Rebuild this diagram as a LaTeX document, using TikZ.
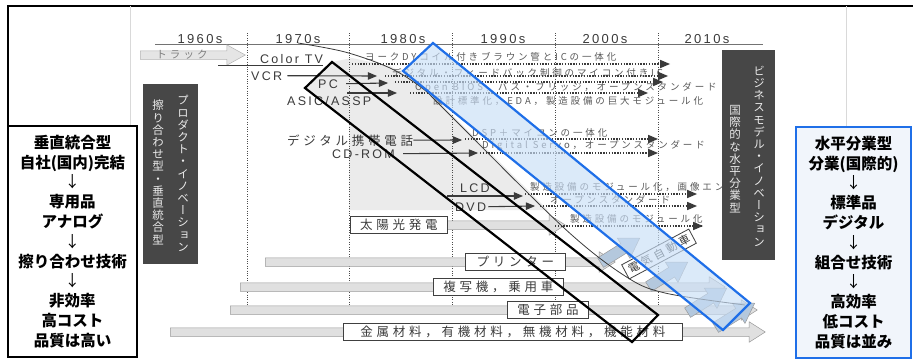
\documentclass[tikz,border=0pt]{standalone}
\usepackage{fontspec}
\setmainfont{Liberation Sans}
\newfontfamily\jp{Noto Sans CJK JP}
\newfontfamily\jpv[RawFeature=+vert]{Noto Sans CJK JP}
\newfontfamily\jpsp[LetterSpace=30]{Noto Sans CJK JP}
\newfontfamily\latsp[LetterSpace=18]{Liberation Sans}
\usetikzlibrary{arrows,shapes.arrows}
\definecolor{bandblue}{HTML}{C8DEF6}
\definecolor{lineblue}{HTML}{1F6FE8}
\definecolor{boxblue}{HTML}{F1F5FB}
\definecolor{scan}{HTML}{3A3A3A}
\makeatletter
%one character per line, for the vertical (tategaki) columns
\def\tate@end{\tate@end@}
\def\tate#1{\tate@first#1\tate@end}
\def\tate@first#1{#1\tate@next}
\def\tate@next#1{\ifx#1\tate@end\else\\#1\expandafter\tate@next\fi}
\makeatother

\begin{document}
\begin{tikzpicture}[x=1pt,y=-1pt,
decade/.style={font=\latsp\fontsize{13}{15}\selectfont, text=scan, anchor=base},
prod/.style={font=\latsp\fontsize{12.5}{14}\selectfont, text=scan, inner sep=0pt, anchor=base west},
jplbl/.style={font=\jpsp\fontsize{12.5}{14}\selectfont, text=scan, inner sep=0pt, anchor=base west},
note/.style={font=\jpsp\fontsize{9.5}{11}\selectfont, text=black!65, inner sep=0pt, anchor=base west},
arr/.style={-triangle 45, line width=1.1pt, draw=scan},
dotarr/.style={-triangle 45, line width=1.3pt, dash pattern=on 1.3pt off 1.5pt, draw=scan},
garrow/.style={single arrow, single arrow head extend=6pt, single arrow tip angle=65,
  fill=black!12, draw=black!40, line width=0.5pt, inner sep=0pt, text height=4pt, text depth=4pt,
  minimum width=20pt},
barlbl/.style={draw=black!75, fill=white, line width=0.8pt, inner sep=1pt, minimum height=17pt,
  font=\jpsp\fontsize{12.5}{14}\selectfont, text=scan},
darkbox/.style={fill=black!72, inner sep=0pt},
vtext/.style={align=center, inner sep=0pt, text=white!92!black,
  font=\jpv\fontsize{11.5}{12.2}\selectfont},
sumbox/.style={line width=2pt, inner sep=0pt, align=center,
  font=\jp\bfseries\fontsize{15.5}{19.8}\selectfont}]
\useasboundingbox (0,0) rectangle (913,359);

%frame of the page
\draw[line width=1.2pt] (8,126) -- (8,6) -- (913,6);
\draw[black!15, line width=0.5pt] (130,6) -- (130,126) (846,6) -- (846,126);

%shaded area of the eighties column
\fill[black!8] (305,88) -- (332,62) -- (352,58) -- (390,66) -- (420,82) -- (445,108)
  -- (548,210) -- (349,210) -- (349,122) -- cycle;

%time axis
\draw[black!55, line width=0.8pt] (155,44) -- (763,44);
\foreach \d/\x in {1960/200,1970/298,1980/403,1990/503,2000/605,2010/707}
  \node[decade] (y\d) at (\x,43) {\d s};
\foreach \x in {247,349,452,555,658}
  \draw[black!70, line width=0.9pt, dash pattern=on 1pt off 1.4pt] (\x,33) -- (\x,305);

%industry bars
\foreach \y/\xs/\xe/\bx/\bw/\txt [count=\i] in {
  225/350/565/350/97/太陽光発電,
  262/265/615/465/100/プリンター,
  287/240/725/433/130/複写機，乗用車,
  310/230/757/507/81/電子部品,
  332/170/765/343/339/金属材料，有機材料，無機材料，機能材料}{
  \node[garrow, anchor=tail, minimum height={\xe pt-\xs pt}] (bar\i) at (\xs,\y) {};
  \node[barlbl, anchor=west, minimum width=\bw pt] (lbl\i) at (\bx,\y) {\txt};
}
%arrows turning up to the right
\foreach \x/\y [count=\i] in {640/238,688/262,727/288,755/303}
  \node[garrow, rotate=32, anchor=tip, minimum height=46pt, minimum width=24pt,
    text height=5pt, text depth=5pt, fill=black!10!bandblue] (up\i) at (\x,\y) {};
\node[barlbl, rotate=28, minimum width=76pt, minimum height=16pt,
  font=\jpsp\fontsize{11}{12}\selectfont] (ev) at (659,254) {電気自動車};

%track arrow
\node[garrow, anchor=tail, minimum height=105pt, single arrow tip angle=58,
  fill=black!10, draw=black!30] (truck) at (140,55) {};
\node[font=\jpsp\fontsize{10.5}{12}\selectfont, text=black!50] (trk) at (182,55) {トラック};

%products
\node[prod] (ctv) at (260,63) {Color TV};
\node[prod] (vcr) at (251,80) {VCR};
\node[prod] (pc) at (318,88) {PC};
\node[prod] (asic) at (287,105) {ASIC/ASSP};
\node[jplbl] (mob) at (287,145) {デジタル携帯電話};
\node[prod] (cdrom) at (332,158) {CD-ROM};
\node[prod] (lcd) at (460,192) {LCD};
\node[prod] (dvd) at (455,211) {DVD};

\coordinate (ctvL) at (218,65);
\draw[line width=1pt, scan] (ctvL) -- (ctvL -| ctv.east);
\coordinate (vcrE) at (377,76);
\coordinate (pcE) at (388,83);
\coordinate (asicS) at (347,93);
\coordinate (asicE) at (397,93);
\coordinate (mobE) at (462,140);
\coordinate (cdE) at (478,153);
\coordinate (lcdS) at (447,196);
\coordinate (lcdE) at (523,196);
\coordinate (dvdE) at (535,206);
\draw[arr] (vcr.east) ++(5,0) -- (vcrE);
\draw[arr] (pc.east) ++(8,0) -- (pcE);
\draw[arr] (asicS) -- (asicE);
\draw[arr] (mob.east) -- (mobE);
\draw[arr] (cdrom.east) ++(8,0) -- (cdE);
\draw[arr] (lcdS) -- (lcdE);
\draw[arr] (dvd.east) ++(2,0) -- (dvdE);

%what each product became
\node[note] (n1) at (365,60) {ヨークDYコイル付きブラウン管とICの一体化};
\node[note] (n2) at (392,76) {デジタル・フィードバック制御のマイコン付きIC};
\node[note] (n3) at (415,90) {Open BIOS，バス・ブリッジ，オープンスタンダード};
\node[note] (n4) at (433,104) {設計標準化，EDA，製造設備の巨大モジュール化};
\node[note] (n5) at (472,136) {DSP＋マイコンの一体化};
\node[note] (n6) at (482,148) {Digital Servo，オープンスタンダード};
\node[note] (n7) at (530,190) {製造設備のモジュール化，画像エンジン流通};
\node[note] (n8) at (550,203) {オープンスタンダード};
\node[note] (n9) at (570,222) {製造設備のモジュール化};
\foreach \n/\xa/\xb/\y in {1/352/670/64,2/385/668/76,3/395/663/82,4/410/648/93,
  5/465/658/139,6/480/658/153,7/525/697/194,8/540/697/206,9/555/703/226}{
  \coordinate (d\n a) at (\xa,\y);
  \coordinate (d\n b) at (\xb,\y);
  \draw[dotarr] (d\n a) -- (d\n b);
}

%boundary curve
\draw[line width=0.8pt, scan] plot[smooth, tension=0.55] coordinates {(298,43) (345,52) (390,68)
  (422,88) (445,110) (563,227) (625,276) (665,293) (745,305)};

%the two diagonal bands
\fill[bandblue, opacity=0.65] (433,43) -- (403,71) -- (723,330) -- (750,303) -- cycle;
\draw[line width=2.2pt] (332,62) -- (305,88) -- (632,342) -- (658,315) -- cycle;
\draw[lineblue, line width=2.2pt] (433,43) -- (403,71) -- (723,330) -- (750,303) -- cycle;

%vertical captions
\node[darkbox, minimum width=55pt, minimum height=180pt] (lbox) at (170.5,174) {};
\node[vtext] (lc1) at (183,173.5) {\tate{プロダクト・イノベーション}};
\node[vtext] (lc2) at (158,172.5) {\tate{擦り合わせ型・垂直統合型}};
\node[darkbox, minimum width=53pt, minimum height=210pt] (rbox) at (748.5,155) {};
\node[vtext] (rc1) at (759,156) {\tate{ビジネスモデル・イノベーション}};
\node[vtext] (rc2) at (735,159) {\tate{国際的な水平分業型}};

%summary boxes
\node[sumbox, draw=black, fill=white, minimum width=129pt, minimum height=231pt] (lsum) at (72.5,241.5)
  {垂直統合型\\自社(国内)完結\\{\mdseries ↓}\\専用品\\アナログ\\{\mdseries ↓}\\擦り合わせ技術\\{\mdseries ↓}\\非効率\\高コスト\\品質は高い};
\node[sumbox, draw=lineblue, fill=boxblue, minimum width=115pt, minimum height=231pt] (rsum) at (853.5,242.5)
  {水平分業型\\分業(国際的)\\{\mdseries ↓}\\標準品\\デジタル\\{\mdseries ↓}\\組合せ技術\\{\mdseries ↓}\\高効率\\低コスト\\品質は並み};
\end{tikzpicture}
\end{document}
